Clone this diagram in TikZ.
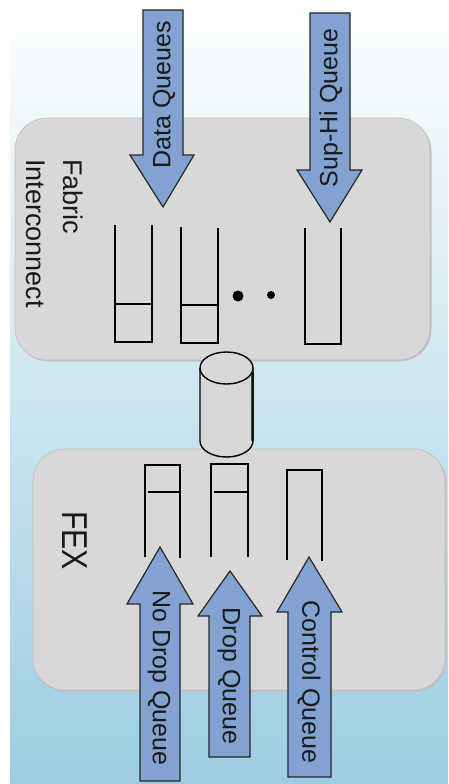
\documentclass[tikz,border=0pt]{standalone}
\usepackage{fontspec}
\setmainfont{Liberation Sans}
\usepackage{graphicx}
\definecolor{arrowblue}{RGB}{130,162,210}
\definecolor{boxgray}{RGB}{217,216,216}
\definecolor{bgmid}{RGB}{205,230,240}
\definecolor{bgblue}{RGB}{156,205,226}
\begin{document}
\begin{tikzpicture}[x=1pt,y=1pt,
  qline/.style={line width=1.4pt, black},
  flowarrow/.style={fill=arrowblue, draw=black!85, line width=1.2pt, line join=miter},
  lbl/.style={font=\fontsize{25}{30}\selectfont, inner sep=0pt, text=black!90},
  pnl/.style={rectangle, fill=boxgray, draw=black!25, line width=0.6pt, rounded corners=32pt, inner sep=0pt},
  pnlshadow/.style={rectangle, fill=black!25, rounded corners=32pt, inner sep=0pt}]
\useasboundingbox (0,0) rectangle (448,-784);
\fill[white] (0,0) rectangle (448,-784);
\shade[top color=white, bottom color=bgmid] (10,0) rectangle (448,-392);
\shade[top color=bgmid, bottom color=bgblue] (10,-392) rectangle (448,-784);

% panels
\node[pnlshadow, minimum width=415, minimum height=242] (fishadow) at (224,-240.5) {};
\node[pnl, minimum width=415, minimum height=242] (fi) at (222.5,-239) {};
\node[pnlshadow, minimum width=412, minimum height=241] (fexshadow) at (240.5,-571) {};
\node[pnl, minimum width=412, minimum height=241] (fex) at (239,-569.5) {};

% panel labels
\node[lbl, font=\fontsize{27}{32}\selectfont, rotate=-90, anchor=base west] (fabric) at (63,-159) {Fabric};
\node[lbl, font=\fontsize{27}{32}\selectfont, rotate=-90, anchor=base west] (interc) at (26,-159) {Interconnect};
\node[lbl, font=\fontsize{36}{40}\selectfont, rotate=-90, anchor=base west] (fexlbl) at (62,-511) {\scalebox{0.84}[1]{FEX}};

% fabric interconnect queues
\draw[qline] (115,-225) -- (115,-342) -- (152,-342) -- (152,-225);
\draw[qline] (115,-304) -- (152,-304);
\draw[qline] (181,-227) -- (181,-343) -- (218,-343) -- (218,-228);
\draw[qline] (181,-305) -- (218,-305);
\draw[qline] (305,-228) -- (305,-344) -- (341,-344) -- (341,-228);
\fill (238,-296) circle (5.5);
\fill (271,-295) circle (4);

% FEX queues
\draw[qline] (145,-557) -- (145,-465) -- (180,-465) -- (180,-558);
\draw[qline] (148,-492) -- (180,-492);
\draw[qline] (211,-557) -- (211,-464) -- (248,-464) -- (248,-557);
\draw[qline] (214,-492) -- (248,-492);
\draw[qline] (287,-560) -- (287,-470) -- (322,-470) -- (322,-561);

% cylinder link
\fill[boxgray] (200,-368) -- (200,-441) arc[start angle=180, end angle=360, x radius=26.5, y radius=16] -- (253,-368) -- cycle;
\draw[line width=2.6pt, black!75] (252.5,-372) -- (252.5,-441);
\draw[line width=1.4pt] (200,-368) -- (200,-441) arc[start angle=180, end angle=360, x radius=26.5, y radius=16] -- (253,-368);
\draw[line width=1.4pt, fill=boxgray] (226.5,-368) ellipse [x radius=26.5, y radius=16];

% arrows into fabric interconnect
\draw[flowarrow] (143,-10) -- (183,-10) -- (183,-155) -- (194,-155) -- (163,-207) -- (130,-155) -- (143,-155) -- cycle;
\draw[flowarrow] (310,-13) -- (350,-13) -- (350,-170) -- (362,-170) -- (330,-222) -- (297,-170) -- (310,-170) -- cycle;
\node[lbl, rotate=90] (dataq) at (164,-95) {Data Queues};
\node[lbl, rotate=90] (suphi) at (331,-108) {Sup-Hi Queue};

% arrows into FEX
\draw[flowarrow] (140,-781) -- (180,-781) -- (180,-604) -- (193,-604) -- (160,-547) -- (127,-604) -- (140,-604) -- cycle;
\draw[flowarrow] (209,-757) -- (250,-757) -- (250,-616) -- (262,-616) -- (230,-571) -- (198,-616) -- (209,-616) -- cycle;
\draw[flowarrow] (288,-777) -- (331,-777) -- (331,-612) -- (342,-612) -- (309,-557) -- (277,-612) -- (288,-612) -- cycle;
\node[lbl, rotate=-90] (nodrop) at (159,-678) {No Drop Queue};
\node[lbl, rotate=-90] (drop) at (229,-676) {Drop Queue};
\node[lbl, rotate=-90] (control) at (309,-682) {Control Queue};
\end{tikzpicture}
\end{document}
